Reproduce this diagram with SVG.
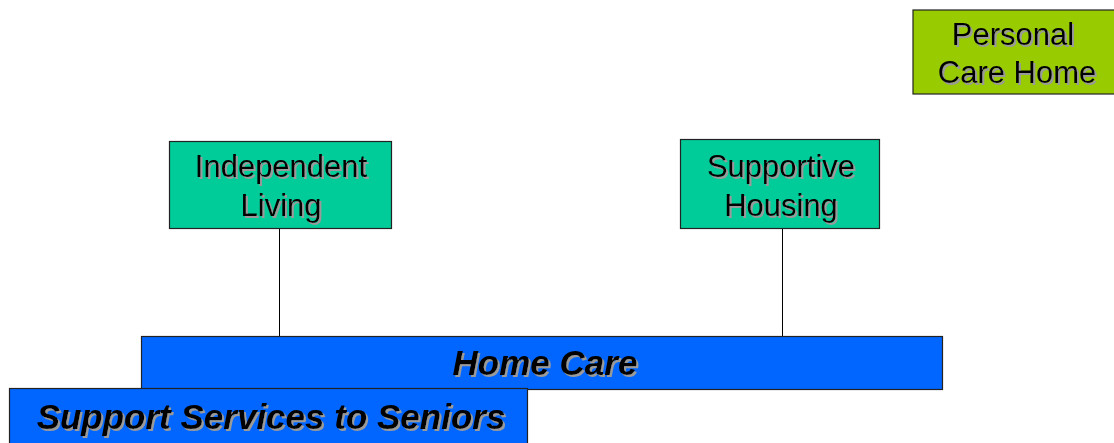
<svg xmlns="http://www.w3.org/2000/svg" width="1114" height="443" viewBox="0 0 1114 443">
<defs>
<filter id="sh" x="-10%" y="-20%" width="130%" height="150%">
<feDropShadow dx="2" dy="2" stdDeviation="0.4" flood-color="#9a9a9a" flood-opacity="1"/>
</filter>
<style>
.box{stroke:#222;stroke-width:1.2}
.green{fill:#00CC99}
.lime{fill:#99CC00}
.blue{fill:#0066FF}
.t{font-family:"Liberation Sans",Arial,sans-serif;font-size:31px;fill:#000;text-anchor:middle;filter:url(#sh)}
.tb{font-family:"Liberation Sans",Arial,sans-serif;font-size:35px;font-weight:bold;font-style:italic;fill:#000;text-anchor:middle;filter:url(#sh)}
.c{stroke:#000;stroke-width:1;fill:none}
</style>
</defs>
<rect width="1114" height="443" fill="#fff"/>
<g id="connectors">
<line class="c" x1="279.5" y1="229" x2="279.5" y2="336"/>
<line class="c" x1="782.5" y1="229" x2="782.5" y2="336"/>
</g>
<g id="personal-care-home">
<rect class="box lime" x="913" y="10" width="205" height="84"/>
<text class="t" x="1013" y="45">Personal</text>
<text class="t" x="1017" y="83">Care Home</text>
</g>
<g id="independent-living">
<rect class="box green" x="169.5" y="141.5" width="222" height="87"/>
<text class="t" x="281" y="177">Independent</text>
<text class="t" x="281" y="216">Living</text>
</g>
<g id="supportive-housing">
<rect class="box green" x="680.5" y="139.5" width="199" height="89"/>
<text class="t" x="781" y="177">Supportive</text>
<text class="t" x="781" y="216">Housing</text>
</g>
<g id="home-care">
<rect class="box blue" x="141.5" y="336.5" width="801" height="53"/>
<text class="tb" x="545" y="375">Home Care</text>
</g>
<g id="support-services">
<rect class="box blue" x="9.5" y="388.5" width="518" height="60"/>
<text class="tb" x="271" y="429">Support Services to Seniors</text>
</g>
</svg>
